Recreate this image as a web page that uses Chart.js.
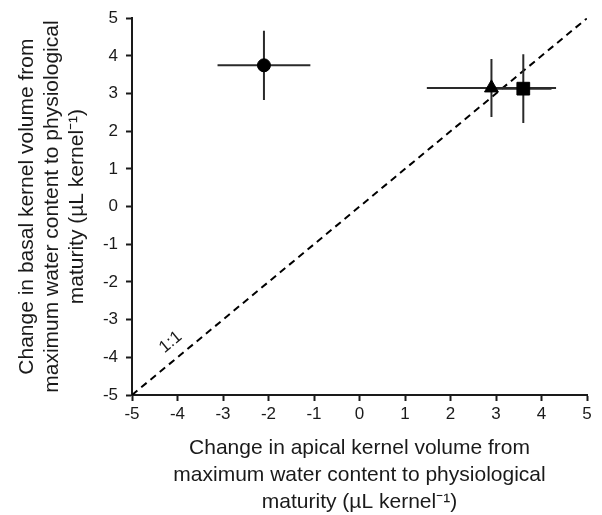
<!DOCTYPE html>
<html>
<head>
<meta charset="utf-8">
<script src="https://cdn.jsdelivr.net/npm/chart.js@4.4.0/dist/chart.umd.min.js"></script>
<style>
  html, body { margin: 0; padding: 0; background: #fff; }
  #wrap { width: 602px; height: 515px; }
</style>
</head>
<body>
<div id="wrap"><canvas id="chart" width="602" height="515"></canvas></div>
<script>
// treatments: circle, triangle, square
var apicalChange = [-2.1, 2.9, 3.6];
var basalChange = [3.75, 3.15, 3.13];
var apicalErr = [1.02, 1.42, 0.62];
var basalErr = [0.92, 0.77, 0.91];
var markers = ['circle', 'triangle', 'rect'];
var markerSizes = [6.5, 8, 9];
var axisTicks = [-5, -4, -3, -2, -1, 0, 1, 2, 3, 4, 5];
var oneToOne = [-5, 5];
var oneToOneLabel = {x: -4.15, y: -3.6, text: '1:1'};

var ink = '#1a1a1a';
var fontFamily = '"Liberation Sans", Arial, sans-serif';
var datasets = [];

// points on top
for (var i = 0; i < apicalChange.length; i++) {
    datasets.push({
        type: 'scatter',
        data: [{x: apicalChange[i], y: basalChange[i]}],
        pointStyle: markers[i],
        pointRadius: markerSizes[i],
        pointBackgroundColor: '#000',
        pointBorderColor: '#000',
        pointBorderWidth: 1,
        order: 0
    });
}

// error bars
for (var i = 0; i < apicalChange.length; i++) {
    datasets.push({
        type: 'line',
        data: [{x: apicalChange[i] - apicalErr[i], y: basalChange[i]},
               {x: apicalChange[i] + apicalErr[i], y: basalChange[i]}],
        borderColor: '#2a2a2a',
        borderWidth: 2,
        pointRadius: 0,
        order: 1
    });
    datasets.push({
        type: 'line',
        data: [{x: apicalChange[i], y: basalChange[i] - basalErr[i]},
               {x: apicalChange[i], y: basalChange[i] + basalErr[i]}],
        borderColor: '#2a2a2a',
        borderWidth: 2,
        pointRadius: 0,
        order: 1
    });
}

// 1:1 line
datasets.push({
    type: 'line',
    data: [{x: oneToOne[0], y: oneToOne[0]}, {x: oneToOne[1], y: oneToOne[1]}],
    borderColor: '#000',
    borderWidth: 2,
    borderDash: [7, 5],
    pointRadius: 0,
    order: 2
});

var labelPlugin = {
    id: 'oneToOneLabel',
    afterDatasetsDraw: function(chart) {
        var xs = chart.scales.x, ys = chart.scales.y, ctx = chart.ctx;
        var dx = xs.getPixelForValue(oneToOne[1]) - xs.getPixelForValue(oneToOne[0]);
        var dy = ys.getPixelForValue(oneToOne[1]) - ys.getPixelForValue(oneToOne[0]);
        ctx.save();
        ctx.translate(xs.getPixelForValue(oneToOneLabel.x), ys.getPixelForValue(oneToOneLabel.y));
        ctx.rotate(Math.atan2(dy, dx));
        ctx.font = '17px ' + fontFamily;
        ctx.fillStyle = ink;
        ctx.textAlign = 'center';
        ctx.textBaseline = 'middle';
        ctx.fillText(oneToOneLabel.text, 0, 0);
        ctx.restore();
    }
};

var tickFont = {family: fontFamily, size: 17};

new Chart(document.getElementById('chart').getContext('2d'), {
    type: 'scatter',
    data: {datasets: datasets},
    options: {
        responsive: false,
        animation: false,
        layout: {padding: {left: 0, top: 15, right: 15, bottom: 0}},
        plugins: {legend: {display: false}, tooltip: {enabled: false}},
        scales: {
            x: {
                type: 'linear',
                min: axisTicks[0],
                max: axisTicks[axisTicks.length - 1],
                afterBuildTicks: function(s) { s.ticks = axisTicks.map(function(v) { return {value: v}; }); },
                afterFit: function(s) { s.height = 120; },
                grid: {display: true, drawOnChartArea: false, drawTicks: true, tickLength: 6, color: ink, tickWidth: 2},
                border: {display: true, color: ink, width: 2},
                ticks: {color: ink, font: tickFont, padding: 3, maxRotation: 0,
                        callback: function(v) { return String(v); }},
                title: {
                    display: true,
                    text: ['Change in apical kernel volume from',
                           'maximum water content to physiological',
                           'maturity (\u00b5L kernel\u207b\u00b9)'],
                    color: ink,
                    font: {family: fontFamily, size: 21, lineHeight: '27px'},
                    padding: {top: 0, bottom: -1}
                }
            },
            y: {
                type: 'linear',
                min: axisTicks[0],
                max: axisTicks[axisTicks.length - 1],
                afterBuildTicks: function(s) { s.ticks = axisTicks.map(function(v) { return {value: v}; }); },
                afterFit: function(s) { s.width = 132; },
                grid: {display: true, drawOnChartArea: false, drawTicks: true, tickLength: 6, color: ink, tickWidth: 2},
                border: {display: true, color: ink, width: 2},
                ticks: {color: ink, font: tickFont, padding: 8,
                        callback: function(v) { return String(v); }},
                title: {
                    display: true,
                    text: ['Change in basal kernel volume from',
                           'maximum water content to physiological',
                           'maturity (\u00b5L kernel\u207b\u00b9)'],
                    color: ink,
                    font: {family: fontFamily, size: 21, lineHeight: '25px'},
                    padding: {top: 14.5, bottom: 0}
                }
            }
        }
    },
    plugins: [labelPlugin]
});
</script>
</body>
</html>
